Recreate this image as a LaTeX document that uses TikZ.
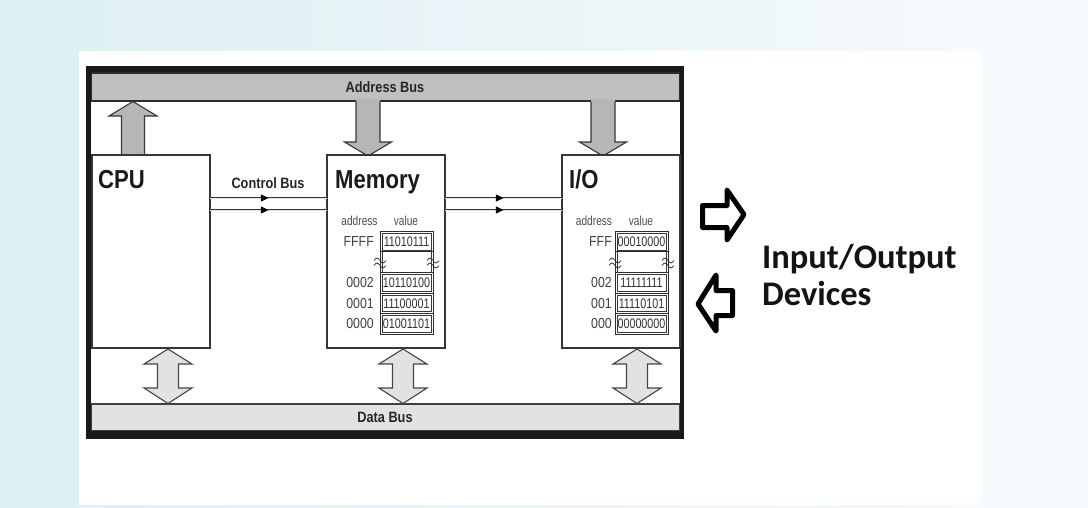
\documentclass[tikz,border=0pt]{standalone}
\usepackage{fontspec}
\setmainfont{Liberation Sans}
\newfontfamily\narrowf[FakeStretch=0.85]{Liberation Sans}
\newfontfamily\cellf[FakeStretch=0.78]{Liberation Sans}
\newfontfamily\calib{Carlito}
\usetikzlibrary{decorations.markings}
\definecolor{bgl}{RGB}{221,239,242}
\definecolor{bgr}{RGB}{248,251,253}
\definecolor{agray}{RGB}{192,192,192}
\definecolor{dgray}{RGB}{226,226,226}
\definecolor{edge}{RGB}{55,55,55}
\definecolor{upfill}{RGB}{182,182,182}
\definecolor{dblfill}{RGB}{226,226,226}
\begin{document}
\begin{tikzpicture}[x=1pt,y=-1pt,
  box/.style={draw=edge, line width=1.3pt, fill=white, anchor=north west, inner sep=0pt, outer sep=0pt},
  title/.style={font=\narrowf\bfseries\fontsize{26}{26}\selectfont, text=black!90, anchor=base west, inner sep=0pt},
  buslabel/.style={font=\narrowf\bfseries\fontsize{15}{15}\selectfont, text=black!85, inner sep=0pt},
  hdr/.style={font=\cellf\fontsize{13}{13}\selectfont, text=black!70, inner sep=0pt},
  addr/.style={font=\narrowf\fontsize{14.5}{14.5}\selectfont, text=black!75, anchor=east, inner sep=0pt},
  cell/.style={draw=gray!35!black, line width=0.7pt, minimum width=53pt, minimum height=20.5pt, inner sep=0pt, outer sep=0pt, font=\cellf\fontsize{13.8}{13.8}\selectfont, text=black!80},
  cellin/.style={draw=gray!45!black, line width=0.5pt},
  tilde/.style={draw=gray!40!black, line width=0.7pt},
  busline/.style={draw=gray!40!black, line width=0.8pt, double=gray!20, double distance=0.7pt, postaction={decorate}, decoration={markings, mark=at position 0.47 with {\fill[black] (3.5pt,0pt) -- (-4pt,3.6pt) -- (-4pt,-3.6pt) -- cycle;}}},
  upedge/.style={draw=edge, line width=1.1pt, line join=miter},
  dbledge/.style={draw=gray!55!black, line width=1.1pt},
  ioarrow/.style={draw=black, line width=5pt, fill=white, line join=round},
  iotext/.style={font=\calib\bfseries\fontsize{34.5}{34.5}\selectfont, text=black!92, anchor=base west, inner sep=0pt}
]
\useasboundingbox (0,0) rectangle (1088,507);
% background
\shade[left color=bgl, right color=bgr] (0,0) rectangle (1088,507);
\fill[white] (79,51) rectangle (981,505);
% frame
\fill[black!90] (86,66) rectangle (684,439);
\fill[white] (91,72) rectangle (680,431);
% buses
\draw[fill=agray, draw=gray!35!black, line width=1.2pt] (91.6,73) rectangle (679.4,101);
\draw[fill=dgray, draw=gray!50!black, line width=1.2pt] (91.6,404) rectangle (679.4,430.5);
\node[buslabel] (abus) at (385,87) {Address Bus};
\node[buslabel] (dbus) at (385,417) {Data Bus};

% top block arrows
\fill[upfill] (121.5,156) -- (121.5,116) -- (109,116) -- (133,101.5) -- (157,116) -- (144.5,116) -- (144.5,156) -- cycle;
\draw[upedge] (121.5,156) -- (121.5,116) -- (109,116) -- (133,101.5) -- (157,116) -- (144.5,116) -- (144.5,156);
\fill[upfill] (356,99) -- (356,142) -- (344.5,142) -- (368,156) -- (391.5,142) -- (380,142) -- (380,99) -- cycle;
\draw[upedge] (356,101.6) -- (356,142) -- (344.5,142) -- (368,156) -- (391.5,142) -- (380,142) -- (380,101.6);
\fill[upfill] (591,99) -- (591,142) -- (579.5,142) -- (603,156) -- (626.5,142) -- (615,142) -- (615,99) -- cycle;
\draw[upedge] (591,101.6) -- (591,142) -- (579.5,142) -- (603,156) -- (626.5,142) -- (615,142) -- (615,101.6);

% bottom double arrows
\foreach \xx in {168,403,637}{
  \draw[dbledge, fill=dblfill] (\xx,349) -- (\xx+24,364) -- (\xx+10.5,364) -- (\xx+10.5,388) -- (\xx+24,388) -- (\xx,403.5) -- (\xx-24,388) -- (\xx-10.5,388) -- (\xx-10.5,364) -- (\xx-24,364) -- cycle;
}

% boxes
\node[box, minimum width=118pt, minimum height=193pt] (cpu) at (92,155) {};
\node[box, minimum width=118pt, minimum height=193pt] (mem) at (327,155) {};
\node[box, minimum width=118pt, minimum height=193pt] (io) at (562,155) {};
\node[title] (cput) at (98,188) {CPU};
\node[title] (memt) at (335,188) {Memory};
\node[title] (iot) at (569,188) {I/O};

% control bus
\node[buslabel] (cbus) at (268,183) {Control Bus};
\coordinate (la) at (0,198);
\coordinate (lb) at (0,210);
\draw[busline] (cpu.east |- la) -- (mem.west |- la);
\draw[busline] (cpu.east |- lb) -- (mem.west |- lb);
\draw[busline] (mem.east |- la) -- (io.west |- la);
\draw[busline] (mem.east |- lb) -- (io.west |- lb);

% memory table
\node[hdr] (mha) at (359.5,221) {address};
\node[hdr] (mhv) at (406,221) {value};
\node[cell] (mF) at (406.5,241.5) {11010111};
\node[cell] (m2) at (406.5,282.75) {10110100};
\node[cell] (m1) at (406.5,303.25) {11100001};
\node[cell] (m0) at (406.5,323.75) {01001101};
\node[addr] (maF) at (374,241.5) {FFFF};
\node[addr] (ma2) at (374,282.75) {0002};
\node[addr] (ma1) at (374,303.25) {0001};
\node[addr] (ma0) at (374,323.75) {0000};

% I/O table
\node[hdr] (iha) at (594,221) {address};
\node[hdr] (ihv) at (641,221) {value};
\node[cell] (iF) at (641.5,241.5) {00010000};
\node[cell] (i2) at (641.5,282.75) {11111111};
\node[cell] (i1) at (641.5,303.25) {11110101};
\node[cell] (i0) at (641.5,323.75) {00000000};
\node[addr] (iaF) at (612,241.5) {FFF};
\node[addr] (ia2) at (612,282.75) {002};
\node[addr] (ia1) at (612,303.25) {001};
\node[addr] (ia0) at (612,323.75) {000};

% inner rectangles of cells
\foreach \n in {mF,m2,m1,m0,iF,i2,i1,i0}{
  \draw[cellin] ([shift={(1.8,1.8)}]\n.north west) rectangle ([shift={(-1.8,-1.8)}]\n.south east);
}
% column lines across the break
\foreach \a/\b in {mF/m2,iF/i2}{
  \draw[cell] (\a.south west) -- (\b.north west);
  \draw[cell] (\a.south east) -- (\b.north east);
  \draw[cellin] ([xshift=1.8pt]\a.south west) -- ([xshift=1.8pt]\b.north west);
  \draw[cellin] ([xshift=-1.8pt]\a.south east) -- ([xshift=-1.8pt]\b.north east);
}
% break marks
\foreach \xx in {380,433,615,668}{
  \foreach \yy in {260.5,265.5}{
    \draw[tilde] (\xx-6,\yy) sin (\xx-3,\yy-2.5) cos (\xx,\yy) sin (\xx+3,\yy+2.5) cos (\xx+6,\yy);
  }
}

% input/output arrows
\draw[ioarrow] (702.5,205.5) -- (727,205.5) -- (727,190) -- (744,214.5) -- (727,240) -- (727,227.5) -- (702.5,227.5) -- cycle;
\draw[ioarrow] (698,304) -- (716,275) -- (716,290.5) -- (732.5,290.5) -- (732.5,315.5) -- (716,315.5) -- (716,331) -- cycle;
\node[iotext] (iot1) at (762,268) {Input/Output};
\node[iotext] (iot2) at (762,305) {Devices};
\end{tikzpicture}
\end{document}
